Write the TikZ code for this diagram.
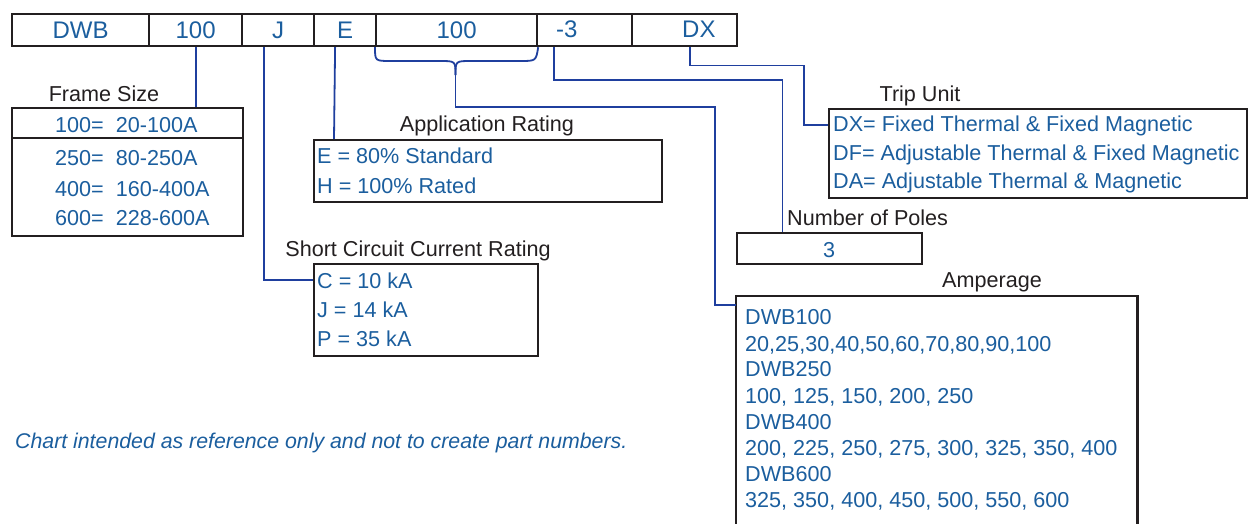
\documentclass[tikz,border=0pt]{standalone}
\usepackage{fontspec}
\setmainfont{Liberation Sans}
\definecolor{txtblue}{HTML}{1B5E9E}
\definecolor{lineblue}{HTML}{1F3F9E}
\definecolor{boxk}{HTML}{231F20}
\definecolor{labk}{HTML}{231F20}
\newcommand\fsA{\fontsize{21.6}{25}\selectfont}
\newcommand\fsB{\fontsize{24}{28}\selectfont}
\newcommand\fsN{\fontsize{21.3}{24}\itshape\selectfont}
\begin{document}
\begin{tikzpicture}[x=1pt,y=-1pt,
  cell/.style={draw=boxk, line width=2.2pt, minimum height=32pt, inner sep=0pt, anchor=north west, text=txtblue, font=\fsB},
  boxed/.style={draw=boxk, line width=2.2pt, inner sep=0pt, anchor=north west},
  conn/.style={draw=lineblue, line width=1.8pt},
  val/.style={text=txtblue, font=\fsA, inner sep=0pt, anchor=base west},
  lab/.style={text=labk, font=\fsA, inner sep=0pt, anchor=base},
  top/.style={text=txtblue, font=\fsB, inner sep=0pt, anchor=base west}]
\useasboundingbox (0,0) rectangle (1248,523);

% top row
\node[cell, minimum width=137pt] (c1) at (11,13) {DWB};
\node[cell, minimum width=93pt] (c2) at (148,13) {100};
\node[cell, minimum width=72pt] (c3) at (241,13) {J};
\node[cell, minimum width=62pt] (c4) at (313,13) {E};
\node[cell, minimum width=161pt] (c5) at (375,13) {100};
\node[cell, minimum width=95pt] (c6) at (536,13) {};
\node[cell, minimum width=105pt] (c7) at (631,13) {};
\node[top] (t6) at (556,37) {-3};
\node[top] (t7) at (682,37) {DX};

% Frame size
\node[lab] (lframe) at (104,101.7) {Frame Size};
\node[boxed, minimum width=231pt, minimum height=128pt] (frame) at (11,107) {};
\draw[draw=boxk, line width=1.3pt] (frame.west |- 0,138) -- (frame.east |- 0,138);
\node[val] (f1) at (55,132.3) {100=\hspace{12pt}20-100A};
\node[val] (f2) at (55,165.7) {250=\hspace{12pt}80-250A};
\node[val] (f3) at (55,196.7) {400=\hspace{12pt}160-400A};
\node[val] (f4) at (55,225) {600=\hspace{12pt}228-600A};

% Application rating
\node[lab] (lapp) at (487,131.7) {Application Rating};
\node[boxed, minimum width=348pt, minimum height=62pt] (app) at (313,139) {};
\node[val] (a1) at (317,163.3) {E = 80\% Standard};
\node[val] (a2) at (317,193.3) {H = 100\% Rated};

% Short circuit
\node[lab] (lsc) at (418,256) {Short Circuit Current Rating};
\node[boxed, minimum width=224pt, minimum height=92pt] (sc) at (313,263) {};
\node[val] (s1) at (317,288) {C = 10 kA};
\node[val] (s2) at (317,317) {J = 14 kA};
\node[val] (s3) at (317,346) {P = 35 kA};

% Trip unit
\node[lab] (ltrip) at (920,101.7) {Trip Unit};
\node[boxed, minimum width=418pt, minimum height=89pt] (trip) at (828,108) {};
\node[val] (r1) at (833,131.7) {DX= Fixed Thermal \& Fixed Magnetic};
\node[val] (r2) at (833,160.7) {DF= Adjustable Thermal \& Fixed Magnetic};
\node[val] (r3) at (833,188.3) {DA= Adjustable Thermal \& Magnetic};

% Number of poles
\node[val, text=labk] (lpoles) at (787,225) {Number of Poles};
\node[boxed, minimum width=185pt, minimum height=31pt] (poles) at (736,232) {};
\node[val, anchor=base] (p1) at (829,257) {3};

% Amperage
\node[lab] (lamp) at (992,287) {Amperage};
\node[inner sep=0pt, anchor=north west, minimum width=401pt, minimum height=240pt] (amp) at (736,296) {};
\draw[draw=boxk, line width=2.2pt] (amp.south west) -- (amp.north west) -- (amp.north east) -- (amp.south east);
\node[val] (m1) at (745,324) {DWB100};
\node[val] (m2) at (745,351.7) {20,25,30,40,50,60,70,80,90,100};
\node[val] (m3) at (745,376) {DWB250};
\node[val] (m4) at (745,403) {100, 125, 150, 200, 250};
\node[val] (m5) at (745,429) {DWB400};
\node[val] (m6) at (745,455) {200, 225, 250, 275, 300, 325, 350, 400};
\node[val] (m7) at (745,481.7) {DWB600};
\node[val] (m8) at (745,507) {325, 350, 400, 450, 500, 550, 600};

% note
\node[val, font=\fsN] (note) at (15,448) {Chart intended as reference only and not to create part numbers.};

% connectors
\draw[conn] (c2.south) -- (frame.north -| c2.south);
\draw[conn] ([xshift=-14pt]c3.south) |- (sc.west |- 0,280);
\draw[conn] ([xshift=-10pt]c4.south) -- ([xshift=21pt]app.north west);
% brace under the amperage cell
\coordinate (btip) at (455.5,75);
\draw[conn] (c5.south west) .. controls (375,61) .. (391,61) -- (440,61) .. controls (455.5,61) .. (btip);
\draw[conn] (c5.south east) .. controls (536,61) .. (520,61) -- (471,61) .. controls (455.5,61) .. (btip);
\draw[conn] (btip) -- ++(0,32) -- ++(259.5,0) |- ([yshift=-9pt]amp.north west);
\draw[conn] ([xshift=-30.5pt]c6.south) -- ++(0,33) -| ([xshift=46.5pt]poles.north west);
\draw[conn] ([xshift=5.5pt]c7.south) -- ++(0,18.3) -- ++(114,0) |- (trip.west |- 0,125);
\end{tikzpicture}
\end{document}
